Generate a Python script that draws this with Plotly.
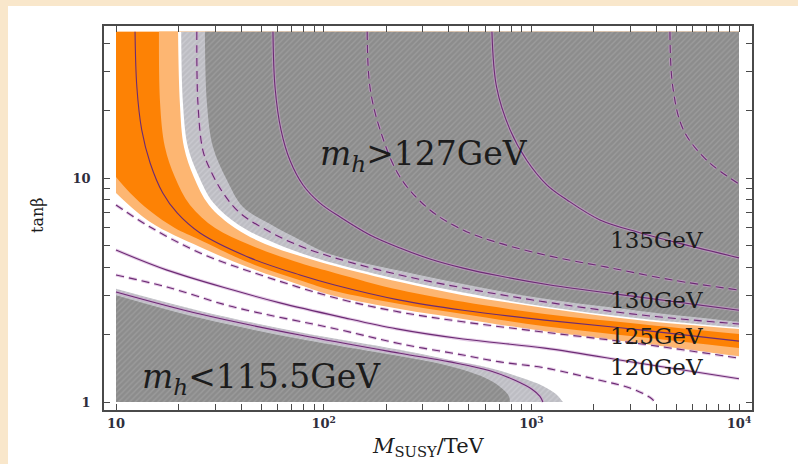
import plotly.graph_objects as go

# ---------------- data (M_SUSY in TeV, tan(beta)) ----------------
M_MIN, M_MAX = 10, 1e4
TB_MIN, TB_MAX = 1, 45

x_major = [10, 100, 1000, 10000]
x_major_text = ["10", "10<sup>2</sup>", "10<sup>3</sup>", "10<sup>4</sup>"]
x_minor = [20, 30, 40, 50, 60, 70, 80, 90,
           200, 300, 400, 500, 600, 700, 800, 900,
           2000, 3000, 4000, 5000, 6000, 7000, 8000, 9000]
y_major = [1, 10]
y_major_text = ["1", "10"]
y_minor = [2, 3, 4, 5, 6, 7, 8, 9, 20, 30, 40]

# m_h contour lines
m_1375 = [4650, 4800, 5400, 7000, 10000]
tb_1375 = [45, 25.5, 16.4, 12.0, 9.4]

m_135 = [646, 680, 790, 950, 1190, 1480, 2140, 3330, 4810, 10000]
tb_135 = [45, 25.5, 16.4, 12.0, 9.3, 8.0, 6.5, 5.7, 5.2, 4.4]

m_1325 = [162, 167, 187, 233, 325, 469, 683, 1230, 2310, 4810, 10000]
tb_1325 = [45, 25.5, 16.4, 10.1, 7.2, 5.86, 5.16, 4.48, 4.0, 3.5, 3.16]

m_130 = [57, 58.3, 62.3, 68.8, 79.5, 96, 120, 167, 233, 325, 469, 706, 1230, 3330, 10000]
tb_130 = [45, 25.5, 16.4, 12.0, 9.31, 7.73, 6.70, 5.57, 4.87, 4.35, 3.96, 3.65, 3.33, 2.94, 2.57]

m_1275 = [24.5, 24.8, 26.2, 28.4, 32.8, 39.5, 55.2, 76.9, 113, 233, 469, 1160, 3330, 10000]
tb_1275 = [45, 21.6, 13.3, 10.9, 8.57, 6.98, 5.74, 4.97, 4.40, 3.69, 3.23, 2.80, 2.45, 2.23]

m_125 = [12.35, 12.6, 13.3, 14.6, 16.8, 19.7, 25.4, 44.2, 76.9, 113, 233, 469, 1160, 3330, 10000]
tb_125 = [45, 25.5, 16.4, 11.67, 8.57, 6.98, 5.68, 4.40, 3.69, 3.33, 2.85, 2.57, 2.32, 2.10, 1.87]

m_1225 = [10, 14.6, 25.4, 53.3, 120, 233, 469, 1160, 3330, 10000]
tb_1225 = [7.58, 6.04, 4.63, 3.61, 2.88, 2.52, 2.28, 2.05, 1.82, 1.57]

m_120 = [10, 17.6, 36.6, 61.6, 120, 225, 469, 1160, 3330, 10000]
tb_120 = [4.77, 3.88, 3.16, 2.77, 2.40, 2.12, 1.91, 1.74, 1.49, 1.27]

m_1175 = [10, 17.6, 36.6, 120, 233, 469, 706, 1160, 2140, 2985, 3720, 3940]
tb_1175 = [3.69, 3.26, 2.66, 2.10, 1.82, 1.62, 1.51, 1.42, 1.25, 1.155, 1.05, 1.0]

m_115 = [10, 25.4, 76.9, 233, 406, 632, 834, 1007, 1100, 1137]
tb_115 = [3.10, 2.47, 1.99, 1.65, 1.51, 1.38, 1.25, 1.14, 1.06, 1.0]

# band / region boundaries
m_lo_low = [10, 14.6, 25.4, 44.2, 76.9, 113, 233, 469, 1160, 3330, 10000]
tb_lo_low = [8.57, 6.36, 4.92, 3.96, 3.33, 2.97, 2.60, 2.35, 2.07, 1.83, 1.60]
m_do_low = [10, 11.7, 14.6, 19.2, 25.4, 44.2, 76.9, 113, 233, 469, 1160, 3330, 10000]
tb_do_low = [10.1, 8.57, 7.12, 5.98, 5.29, 4.17, 3.50, 3.13, 2.74, 2.47, 2.18, 1.95, 1.74]
m_do_up = [16.1, 16.3, 17.2, 19.2, 22.7, 30.0, 44.2, 76.9, 113, 233, 469, 1160, 3330, 10000]
tb_do_up = [45, 21.6, 13.75, 10.1, 7.58, 5.98, 5.02, 4.17, 3.77, 3.16, 2.80, 2.47, 2.23, 2.01]
m_lo_up = [19.9, 20.3, 21.25, 23.7, 28.0, 37.4, 52.2, 76.9, 113, 233, 469, 1160, 3330, 10000]
tb_lo_up = [45, 21.6, 13.75, 10.1, 7.58, 5.98, 5.08, 4.49, 4.05, 3.43, 3.00, 2.63, 2.32, 2.12]
m_lg_up = [20.6, 21.0, 22.2, 24.9, 29.5, 39.0, 55.2, 76.9, 113, 233, 469, 1160, 3330, 10000]
tb_lg_up = [45, 21.6, 13.75, 10.3, 7.73, 6.17, 5.23, 4.64, 4.15, 3.52, 3.08, 2.67, 2.36, 2.15]
m_dg_up = [26.8, 27.4, 29.3, 34.2, 40.9, 55.2, 76.9, 107, 233, 469, 1100, 3330, 10000]
tb_dg_up = [45, 21.6, 13.75, 9.8, 7.42, 6.23, 5.29, 4.58, 3.85, 3.36, 2.91, 2.55, 2.28]
m_lg_low = [10, 25.4, 76.9, 233, 406, 632, 882, 1137, 1314, 1420]
tb_lg_low = [3.20, 2.55, 2.05, 1.71, 1.54, 1.42, 1.29, 1.18, 1.085, 1.0]
m_dg_low = [10, 25.4, 76.9, 233, 363, 506, 632, 730, 780, 789]
tb_dg_low = [3.0, 2.37, 1.91, 1.60, 1.48, 1.36, 1.25, 1.14, 1.06, 1.0]

# ---------------- styles ----------------
PEACH = "#f9e7cb"
DARK_ORANGE = "#fd8205"
LIGHT_ORANGE = "#fdb672"
DARK_GREY = "#8c8c8c"
LIGHT_GREY = "#bdbdc3"
LINE_COL = "#6c2b74"
HALO_COL = "rgba(205,160,210,0.55)"
FONT = "DejaVu Serif"

fig = go.Figure()


def pattern_for(col, fg):
    return dict(shape="/", size=4, solidity=0.35, bgcolor=col, fgcolor=fg, fillmode="replace")


def region_above(m, tb, color, pattern=None):
    xs, ys = [m[0]], [tb[0]]
    if tb[0] < TB_MAX:          # boundary starts on the left edge
        xs.append(M_MIN); ys.append(TB_MAX)
    xs += [M_MAX, M_MAX]; ys += [TB_MAX, tb[-1]]
    fig.add_trace(go.Scatter(x=xs, y=ys, mode="lines", line=dict(width=0),
                             hoverinfo="skip", showlegend=False))
    kw = dict(fillpattern=pattern) if pattern else {}
    fig.add_trace(go.Scatter(x=m, y=tb, mode="lines", line=dict(width=0, shape="spline"),
                             fill="tonexty", fillcolor=color, hoverinfo="skip",
                             showlegend=False, **kw))


def region_below(m, tb, color, pattern=None):
    xs = [m[0], M_MIN, m[-1]]
    ys = [tb[0], TB_MIN, TB_MIN]
    fig.add_trace(go.Scatter(x=xs, y=ys, mode="lines", line=dict(width=0),
                             hoverinfo="skip", showlegend=False))
    kw = dict(fillpattern=pattern) if pattern else {}
    fig.add_trace(go.Scatter(x=m, y=tb, mode="lines", line=dict(width=0, shape="spline"),
                             fill="tonexty", fillcolor=color, hoverinfo="skip",
                             showlegend=False, **kw))


def contour(m, tb, dashed, halo=True):
    dash = "8px,5px" if dashed else "solid"
    if halo:
        fig.add_trace(go.Scatter(x=m, y=tb, mode="lines",
                                 line=dict(color=HALO_COL, width=3.2, dash=dash, shape="spline"),
                                 hoverinfo="skip", showlegend=False))
    fig.add_trace(go.Scatter(x=m, y=tb, mode="lines",
                             line=dict(color=LINE_COL, width=1.1, dash=dash, shape="spline"),
                             hoverinfo="skip", showlegend=False))


# filled bands, painted from lower-left to upper-right
region_above(m_lo_low, tb_lo_low, LIGHT_ORANGE)
region_above(m_do_low, tb_do_low, DARK_ORANGE)
region_above(m_do_up, tb_do_up, LIGHT_ORANGE)
region_above(m_lo_up, tb_lo_up, "white")
region_above(m_lg_up, tb_lg_up, LIGHT_GREY, pattern_for(LIGHT_GREY, "#cacad0"))
region_above(m_dg_up, tb_dg_up, DARK_GREY, pattern_for(DARK_GREY, "#9c9c9c"))
region_below(m_lg_low, tb_lg_low, LIGHT_GREY, pattern_for(LIGHT_GREY, "#cacad0"))
region_below(m_dg_low, tb_dg_low, DARK_GREY, pattern_for(DARK_GREY, "#9c9c9c"))

# contour lines
contour(m_1375, tb_1375, True)
contour(m_135, tb_135, False)
contour(m_1325, tb_1325, True)
contour(m_130, tb_130, False)
contour(m_1275, tb_1275, True)
contour(m_125, tb_125, False, halo=False)
contour(m_1225, tb_1225, True)
contour(m_120, tb_120, False)
contour(m_1175, tb_1175, True)
contour(m_115, tb_115, False)

# ---------------- layout ----------------
L, R, T, B = 104, 46, 26, 54
W, H = 798, 464
pw, ph = W - L - R, H - T - B


def px(xp):
    return (xp - L) / pw


def py(yp):
    return (H - B - yp) / ph


TICK_COL = "#4a4a4a"
axis_common = dict(type="log", showgrid=False, zeroline=False, showline=True,
                   linecolor=TICK_COL, linewidth=1.5, mirror="allticks",
                   ticks="inside", ticklen=6, tickwidth=1.2, tickcolor=TICK_COL,
                   tickfont=dict(family=FONT, size=13, color="#2e2e3c", weight="bold"))
minor_common = dict(ticks="inside", ticklen=6, tickwidth=1.2, tickcolor=TICK_COL, showgrid=False)

fig.update_xaxes(range=[0.9422, 4.0626], tickmode="array", tickvals=x_major,
                 ticktext=x_major_text, ticklabelstandoff=1,
                 minor=dict(tickmode="array", tickvals=x_minor, **minor_common), **axis_common)
fig.update_yaxes(range=[-0.0357, 1.6786], tickmode="array", tickvals=y_major,
                 ticktext=y_major_text, ticklabelstandoff=9,
                 minor=dict(tickmode="array", tickvals=y_minor, **minor_common), **axis_common)

annotations = [
    dict(text="<i>m</i><sub><i>h</i></sub>&gt;127GeV", x=px(424), y=py(155), size=33),
    dict(text="<i>m</i><sub><i>h</i></sub>&lt;115.5GeV", x=px(261), y=py(378), size=33),
    dict(text="135GeV", x=px(656), y=py(240), size=23),
    dict(text="130GeV", x=px(656), y=py(300), size=23),
    dict(text="125GeV", x=px(656), y=py(336), size=23),
    dict(text="120GeV", x=px(656), y=py(367), size=23),
    dict(text="<i>M</i><sub>SUSY</sub>/TeV", x=px(428), y=py(447), size=21),
]
for a in annotations:
    fig.add_annotation(text=a["text"], x=a["x"], y=a["y"], xref="paper", yref="paper",
                       showarrow=False, xanchor="center", yanchor="middle",
                       font=dict(family=FONT, size=a["size"], color="#1c1c1c"))
fig.add_annotation(text="tanβ", x=px(37), y=py(215), xref="paper", yref="paper",
                   showarrow=False, textangle=-90, xanchor="center", yanchor="middle",
                   font=dict(family=FONT, size=16, color="#1c1c1c"))

# peach page with a white panel
fig.add_shape(type="rect", xref="paper", yref="paper", layer="below",
              x0=px(8), x1=px(W + 10), y0=py(H + 10), y1=py(6),
              fillcolor="white", line=dict(width=0))

fig.update_layout(width=W, height=H, margin=dict(l=L, r=R, t=T, b=B),
                  paper_bgcolor=PEACH, plot_bgcolor="white", showlegend=False)

fig.write_html("out.html", config={"displayModeBar": False},
               post_script="document.body.style.margin='0px';document.body.style.background='%s';" % PEACH)
